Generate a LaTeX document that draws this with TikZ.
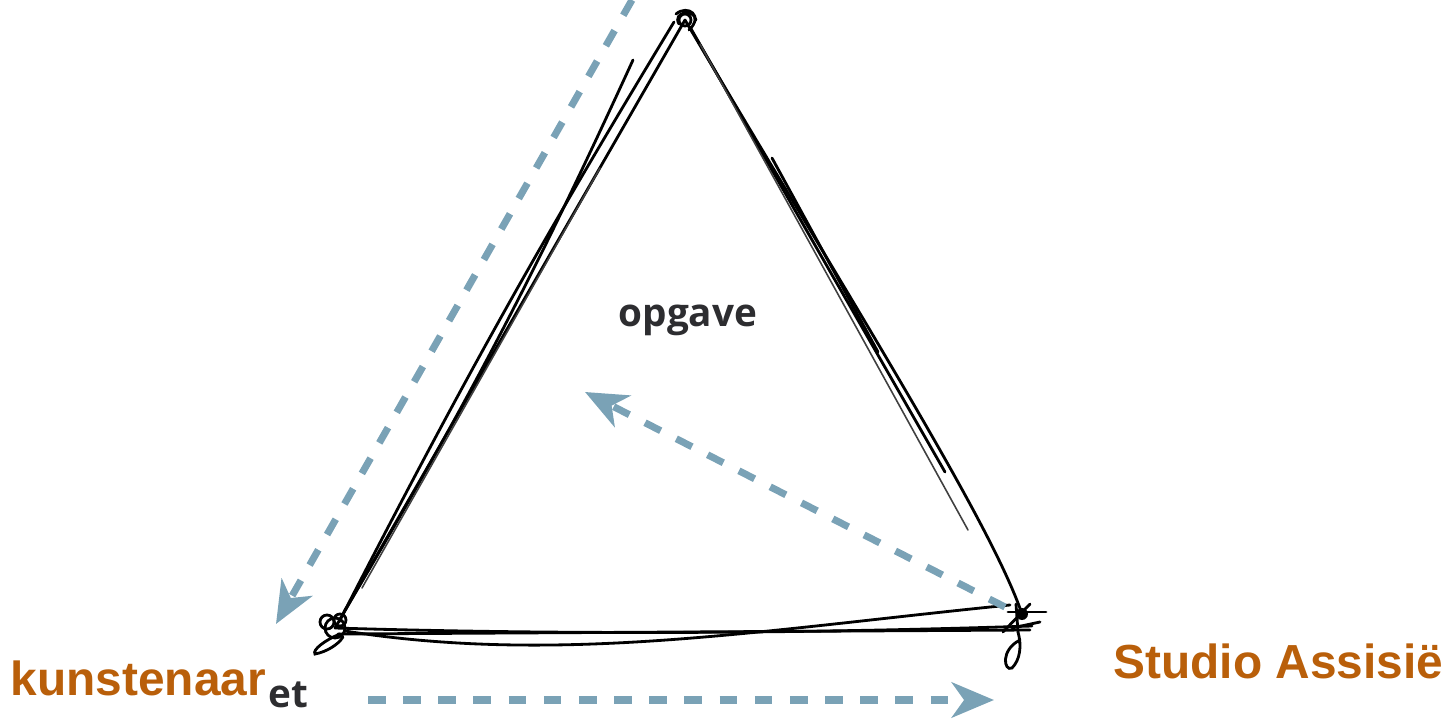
\documentclass[tikz,border=0pt]{standalone}
\usepackage{fontspec}
\setmainfont{Liberation Sans}
\newfontfamily\opensans{Open Sans}
\usepackage{xcolor}
\usetikzlibrary{arrows.meta, calc}
\definecolor{flowblue}{RGB}{122,162,182}
\definecolor{labelorange}{RGB}{185,95,10}
\definecolor{textgray}{RGB}{45,45,48}

\begin{document}
\begin{tikzpicture}[x=0.01cm, y=-0.01cm,
  pencil/.style={draw=black, line width=0.8pt, line cap=round},
  thinpencil/.style={pencil, line width=0.45pt, draw=black!75},
  flow/.style={draw=flowblue, line width=2pt, dash pattern=on 5pt off 5pt,
               -{Stealth[length=12pt, width=10pt, inset=3.5pt]}},
  party/.style={font=\fontsize{13.6}{16}\selectfont\bfseries,
                text=labelorange, inner sep=0pt, anchor=base west},
  inner/.style={font=\opensans\bfseries\fontsize{11}{14}\selectfont,
                text=textgray, inner sep=0pt, anchor=base west}
]
\useasboundingbox (0,0) rectangle (1456,721);

% Corners of the triangle
\coordinate (T) at (685,20);
\coordinate (L) at (335,628);
\coordinate (R) at (1022,614);

% Left edge (several pencil strokes)
\draw[pencil] (L) -- (T);
\draw[pencil] (339,622) to[bend left=2] (674,22);
\draw[pencil] (344,612) to[bend right=3] (633,60);
\draw[thinpencil] (362,588) -- (600,168);

% Right edge
\draw[pencil] (T) .. controls (850,300) and (990,520) .. (R);
\draw[pencil] (690,27) -- (945,472);
\draw[pencil] (772,158) -- (878,352);
\draw[thinpencil] (700,44) -- (968,530);

% Bottom edge
\draw[pencil] (L) .. controls (600,636) and (850,632) .. (1032,626);
\draw[pencil] (345,631) .. controls (560,665) and (760,630) .. (1010,605);
\draw[pencil] (338,634) -- (1030,630);

% Scribbles at the corners
\draw[pencil] (T) circle (6);
\draw[pencil] (676,14) .. controls (688,4) and (704,16) .. (689,30);
\draw[pencil] (679,24) .. controls (672,12) and (694,8) .. (696,20);
\draw[pencil] (L) circle (10);
\draw[pencil] (327,622) circle (7);
\draw[pencil] (340,620) circle (6);
\draw[pencil] (340,634) .. controls (325,640) and (312,650) .. (315,654)
              .. controls (326,652) and (338,645) .. (343,637);
\fill (R) circle (6);
\draw[pencil] (1003,632) -- (1030,604);
\draw[pencil] (1008,612) -- (1046,612);
\draw[pencil] (1012,628) -- (1040,622);
\draw[pencil] (1016,604) -- (1018,632);
\draw[pencil] (1020,640) .. controls (1000,650) and (1004,672) .. (1012,668)
              .. controls (1020,660) and (1022,646) .. (1018,632);

% Flows between the parties
\coordinate (a1s) at (632,0);
\coordinate (a1e) at (276,624);
\coordinate (a2s) at (1005,607);
\coordinate (a2e) at (585,392);
\coordinate (a3s) at (368,700);
\coordinate (a3e) at (994,700);
\draw[flow] (a1s) -- (a1e);
\draw[flow] (a2s) -- (a2e);
\draw[flow] (a3s) -- (a3e);

% Labels
\node[inner] (opgave) at (618,327) {opgave};
\node[inner] (et) at (268,707) {et};
\node[party] (kunstenaar) at (10,695) {kunstenaar};
\node[party] (studio) at (1113,678) {Studio Assisië};

\end{tikzpicture}
\end{document}
